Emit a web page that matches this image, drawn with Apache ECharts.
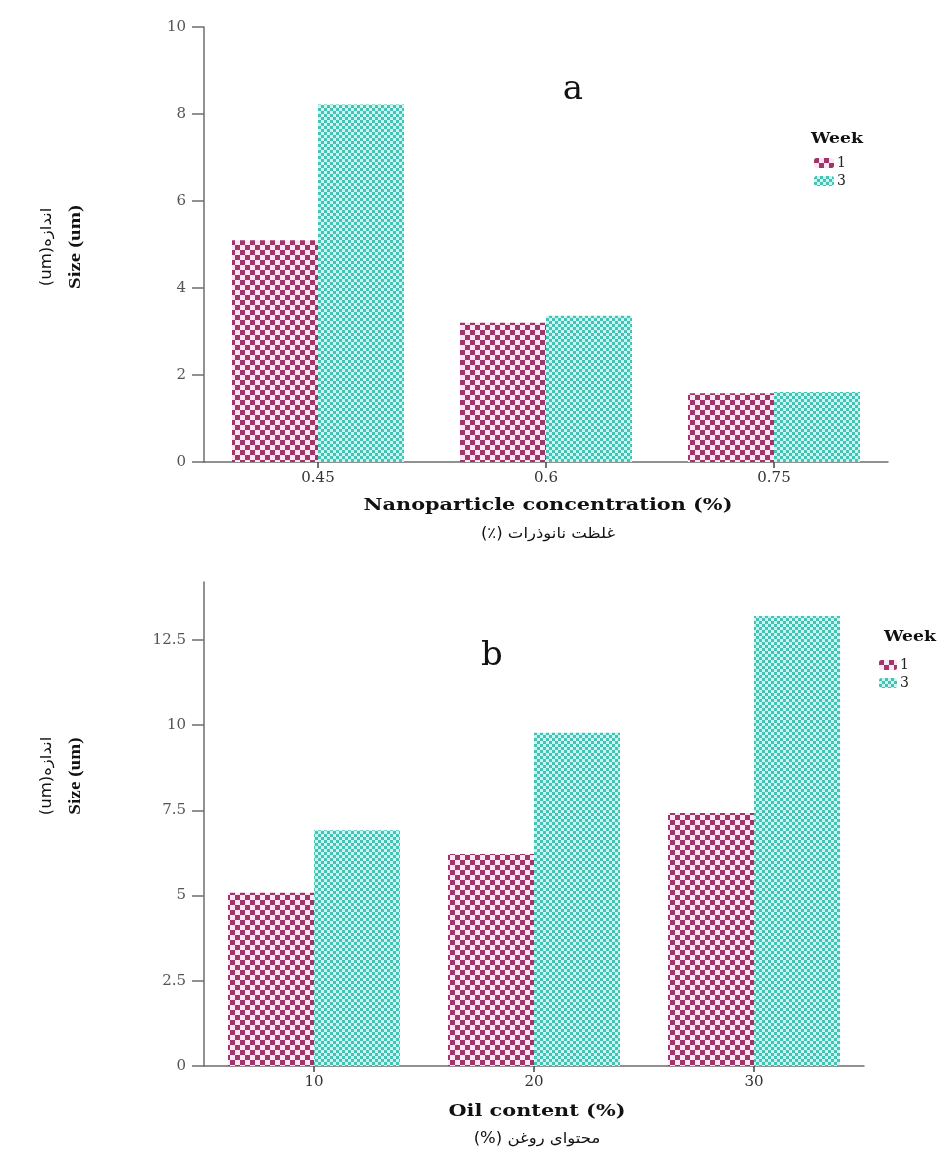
<!DOCTYPE html>
<html>
<head>
<meta charset="utf-8">
<script src="https://cdn.jsdelivr.net/npm/echarts@6/dist/echarts.min.js"></script>
<style>
  html, body { margin: 0; padding: 0; background: #fff; }
  #chart { width: 946px; height: 1153px; }
</style>
</head>
<body>
<div id="chart"></div>
<script>
// panel a: nanoparticle concentration
const concCategories = ['0.45', '0.6', '0.75']
const concWeek1 = [5.1, 3.2, 1.58]
const concWeek3 = [8.22, 3.36, 1.61]
const concTicks = [0, 2, 4, 6, 8, 10]

// panel b: oil content
const oilCategories = ['10', '20', '30']
const oilWeek1 = [5.08, 6.22, 7.42]
const oilWeek3 = [6.92, 9.78, 13.2]
const oilTicks = [0, 2.5, 5, 7.5, 10, 12.5]

const weekNames = ['1', '3']

const makePattern = (dark, light, cell) => {
  const c = document.createElement('canvas')
  c.width = cell * 2
  c.height = cell * 2
  const ctx = c.getContext('2d')
  ctx.fillStyle = light
  ctx.fillRect(0, 0, cell * 2, cell * 2)
  ctx.fillStyle = dark
  ctx.fillRect(0, 0, cell, cell)
  ctx.fillRect(cell, cell, cell, cell)
  return { image: c, repeat: 'repeat' }
}

const pinkPattern = makePattern('#a0346c', '#fbe6f0', 5)
const tealPattern = makePattern('#44c2b6', '#cdf5f0', 3)

const chart = echarts.init(document.getElementById('chart'))

const serif = 'DejaVu Serif'
const axisGray = '#6e6e6e'

const yAxisCommon = {
  type: 'value',
  splitLine: { show: false },
  axisLine: { show: true, lineStyle: { color: axisGray, width: 1.5 } },
  axisTick: { show: true, length: 12, lineStyle: { color: axisGray, width: 1.5 } },
  axisLabel: { color: '#555', fontFamily: serif, fontSize: 15, margin: 18 },
}

const xAxisCommon = {
  type: 'category',
  axisLine: { show: true, lineStyle: { color: axisGray, width: 1.5 } },
  axisTick: { show: true, alignWithLabel: true, length: 6, lineStyle: { color: '#444', width: 1.5 } },
  axisLabel: { color: '#333', fontFamily: serif, fontSize: 15, margin: 9 },
}

const barCommon = {
  type: 'bar',
  barWidth: 86,
  barGap: '0%',
  silent: true,
}

const legendCommon = {
  data: weekNames.map((n) => ({ name: n })),
  orient: 'vertical',
  itemWidth: 20, itemHeight: 10, itemGap: 4,
  textStyle: { fontFamily: serif, fontSize: 14, color: '#222', padding: [0, 0, 0, -2] },
  selectedMode: false,
}

const txt = (x, y, text, font, extra = {}) => ({
  type: 'text', x, y, ...extra,
  style: { text, font, fill: '#111', align: 'center', verticalAlign: 'middle' },
})

const option = {
  animation: false,
  backgroundColor: '#fff',
  grid: [
    { left: 204, top: 27, width: 684, height: 435 },
    { left: 204, top: 582, width: 660, height: 484 },
  ],
  xAxis: [
    { ...xAxisCommon, gridIndex: 0, data: concCategories },
    { ...xAxisCommon, gridIndex: 1, data: oilCategories },
  ],
  yAxis: [
    { ...yAxisCommon, gridIndex: 0, min: 0, max: 10, interval: 2,
      axisLabel: { ...yAxisCommon.axisLabel, customValues: concTicks },
      axisTick: { ...yAxisCommon.axisTick, customValues: concTicks } },
    { ...yAxisCommon, gridIndex: 1, min: 0, max: 14.2,
      axisLabel: { ...yAxisCommon.axisLabel, customValues: oilTicks },
      axisTick: { ...yAxisCommon.axisTick, customValues: oilTicks } },
  ],
  legend: [
    { ...legendCommon, left: 809, top: 151 },
    { ...legendCommon, left: 874, top: 653, itemWidth: 18 },
  ],
  series: [
    { ...barCommon, name: weekNames[0], xAxisIndex: 0, yAxisIndex: 0, data: concWeek1, itemStyle: { color: pinkPattern } },
    { ...barCommon, name: weekNames[1], xAxisIndex: 0, yAxisIndex: 0, data: concWeek3, itemStyle: { color: tealPattern } },
    { ...barCommon, name: weekNames[0], xAxisIndex: 1, yAxisIndex: 1, data: oilWeek1, itemStyle: { color: pinkPattern } },
    { ...barCommon, name: weekNames[1], xAxisIndex: 1, yAxisIndex: 1, data: oilWeek3, itemStyle: { color: tealPattern } },
  ],
  graphic: [
    // panel letters
    txt(573, 90, 'a', '34px "DejaVu Serif"'),
    txt(492, 656, 'b', '34px "DejaVu Serif"'),
    // legend titles
    txt(837, 139, 'Week', 'bold 15px "DejaVu Serif"', { scaleX: 1.15 }),
    txt(910, 637, 'Week', 'bold 15px "DejaVu Serif"', { scaleX: 1.15 }),
    // x-axis names
    txt(548, 506, 'Nanoparticle concentration (%)', 'bold 16px "DejaVu Serif"', { scaleX: 1.3 }),
    txt(548, 534, '(٪) غلظت نانوذرات', '15px "DejaVu Sans"', { scaleX: 1.1 }),
    txt(537, 1112, 'Oil content (%)', 'bold 16px "DejaVu Serif"', { scaleX: 1.3 }),
    txt(537, 1139, '(%) محتوای روغن', '15px "DejaVu Sans"', { scaleX: 1.1 }),
    // y-axis names (rotated, read bottom to top)
    txt(76, 247, 'Size (um)', 'bold 16px "Liberation Serif"', { rotation: Math.PI / 2, scaleX: 1.3 }),
    txt(47, 247, '(um)اندازه', '15px "DejaVu Sans"', { rotation: Math.PI / 2, scaleX: 1.1 }),
    txt(76, 776, 'Size (um)', 'bold 16px "Liberation Serif"', { rotation: Math.PI / 2, scaleX: 1.2 }),
    txt(47, 776, '(um)اندازه', '15px "DejaVu Sans"', { rotation: Math.PI / 2, scaleX: 1.1 }),
  ],
}

chart.setOption(option)

window.addEventListener('resize', () => chart.resize())
</script>
</body>
</html>
